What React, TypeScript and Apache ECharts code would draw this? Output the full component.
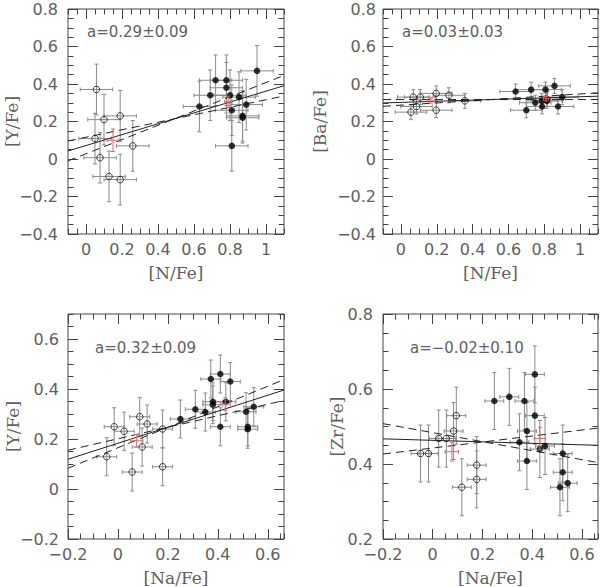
import React, { useEffect, useRef } from "react";
import * as echarts from "echarts";

// ---------- DATA ----------
// Panel 1: [Y/Fe] vs [N/Fe]
const p1OpenX = [0.058, 0.05, 0.1, 0.19, 0.078, 0.26, 0.128, 0.19];
const p1OpenY = [0.371, 0.109, 0.21, 0.23, 0.007, 0.07, -0.093, -0.11];
const p1FilledX = [0.63, 0.69, 0.72, 0.78, 0.78, 0.8, 0.81, 0.85, 0.89, 0.87, 0.87, 0.95, 0.81];
const p1FilledY = [0.28, 0.34, 0.42, 0.42, 0.38, 0.34, 0.26, 0.33, 0.29, 0.23, 0.22, 0.47, 0.07];
const p1Err = [0.09, 0.135]; // [x error, y error]
const p1Means = [
  [0.15, 0.1, 0.033, 0.06],
  [0.79, 0.305, 0.02, 0.03],
];

// Panel 2: [Ba/Fe] vs [N/Fe]
const p2OpenX = [0.056, 0.069, 0.087, 0.108, 0.197, 0.197, 0.268, 0.357];
const p2OpenY = [0.25, 0.33, 0.28, 0.33, 0.35, 0.26, 0.34, 0.31];
const p2FilledX = [0.64, 0.7, 0.727, 0.75, 0.786, 0.788, 0.807, 0.814, 0.818, 0.857, 0.877, 0.9];
const p2FilledY = [0.36, 0.26, 0.37, 0.3, 0.31, 0.28, 0.37, 0.31, 0.32, 0.39, 0.28, 0.33];
const p2Err = [0.088, 0.04];
const p2Means = [
  [0.167, 0.31, 0.02, 0.012],
  [0.81, 0.322, 0.015, 0.012],
];

// Panel 3: [Y/Fe] vs [Na/Fe]
const p3OpenX = [-0.045, -0.015, 0.025, 0.057, 0.087, 0.097, 0.117, 0.179, 0.179];
const p3OpenY = [0.129, 0.249, 0.231, 0.068, 0.289, 0.168, 0.26, 0.24, 0.089];
const p3FilledX = [0.25, 0.31, 0.35, 0.372, 0.38, 0.38, 0.41, 0.41, 0.432, 0.45, 0.513, 0.52, 0.52, 0.544];
const p3FilledY = [0.28, 0.319, 0.308, 0.44, 0.349, 0.337, 0.46, 0.249, 0.349, 0.43, 0.309, 0.249, 0.239, 0.329];
const p3Err = [0.04, 0.076];
const p3Means = [
  [0.075, 0.193, 0.025, 0.025],
  [0.43, 0.34, 0.02, 0.025],
];

// Panel 4: [Zr/Fe] vs [Na/Fe]
const p4OpenX = [-0.049, -0.017, 0.024, 0.055, 0.084, 0.095, 0.117, 0.177, 0.177];
const p4OpenY = [0.428, 0.428, 0.468, 0.468, 0.488, 0.529, 0.338, 0.397, 0.359];
const p4FilledX = [0.248, 0.308, 0.349, 0.369, 0.379, 0.379, 0.411, 0.411, 0.431, 0.452, 0.512, 0.523, 0.523, 0.543];
const p4FilledY = [0.568, 0.579, 0.458, 0.568, 0.488, 0.408, 0.639, 0.529, 0.44, 0.448, 0.338, 0.428, 0.378, 0.349];
const p4Err = [0.038, 0.076];
const p4Means = [
  [0.077, 0.433, 0.027, 0.025],
  [0.431, 0.468, 0.023, 0.03],
];

// Linear fits: slope a, its error, and pivot point
const fitSlopes = [0.29, 0.03, 0.32, -0.02];
const fitErrors = [0.09, 0.03, 0.09, 0.1];
const fitPivotX = [0.49, 0.5, 0.2, 0.205];
const fitPivotY = [0.214, 0.317, 0.247, 0.459];
const fitLabels = ["a=0.29\u00b10.09", "a=0.03\u00b10.03", "a=0.32\u00b10.09", "a=\u22120.02\u00b10.10"];

// Axis names and ranges
const xNames = ["[N/Fe]", "[N/Fe]", "[Na/Fe]", "[Na/Fe]"];
const yNames = ["[Y/Fe]", "[Ba/Fe]", "[Y/Fe]", "[Zr/Fe]"];
const xRanges = [[-0.1, 1.1], [-0.1, 1.1], [-0.2, 0.665], [-0.2, 0.665]];
const yRanges = [[-0.4, 0.8], [-0.4, 0.8], [-0.2, 0.7], [0.2, 0.8]];
const xLabelRanges = [[0, 1], [0, 1], [-0.2, 0.6], [-0.2, 0.6]];
const yLabelRanges = [[-0.4, 0.8], [-0.4, 0.8], [-0.2, 0.6], [0.2, 0.8]];
const majorStep = 0.2;
const xMinorSteps = [0.05, 0.05, 0.05, 0.05];
const yMinorSteps = [0.05, 0.05, 0.05, 0.05];

const panelData = [
  { ox: p1OpenX, oy: p1OpenY, fx: p1FilledX, fy: p1FilledY, err: p1Err, means: p1Means },
  { ox: p2OpenX, oy: p2OpenY, fx: p2FilledX, fy: p2FilledY, err: p2Err, means: p2Means },
  { ox: p3OpenX, oy: p3OpenY, fx: p3FilledX, fy: p3FilledY, err: p3Err, means: p3Means },
  { ox: p4OpenX, oy: p4OpenY, fx: p4FilledX, fy: p4FilledY, err: p4Err, means: p4Means },
];

// ---------- LAYOUT ----------
const FRAMES = [
  { left: 68, top: 9, width: 216, height: 225 },
  { left: 383, top: 9, width: 215, height: 225 },
  { left: 68, top: 314, width: 216, height: 225 },
  { left: 383, top: 314, width: 215, height: 225 },
];
const yLabelMargins = [10, 7, 9, 10];
const yNameGaps = [48, 55, 47, 38];
const xNameGap = 30;
const annotPos = [
  [87, 32],
  [402, 32],
  [95, 348],
  [410, 348],
];
const MAJOR_TICK = 10;
const MINOR_TICK = 5.5;

const FRAME_COLOR = "#444";
const TEXT_COLOR = "#606060";
const ERR_COLOR = "#8a8a8a";
const MEAN_COLOR = "#e06a6a";
const LABEL_FONT = "DejaVu Sans";
const NAME_FONT = "DejaVu Serif";

const fmt = (v: number) => String(+v.toFixed(3)).replace("-", "\u2212");

function errorBarRender(color: string) {
  return (params: any, api: any) => {
    const x = api.value(0);
    const y = api.value(1);
    const xe = api.value(2);
    const ye = api.value(3);
    const l = api.coord([x - xe, y]);
    const r = api.coord([x + xe, y]);
    const t = api.coord([x, y + ye]);
    const b = api.coord([x, y - ye]);
    const c = 2;
    const style = { stroke: color, lineWidth: 1, fill: null };
    const seg = (x1: number, y1: number, x2: number, y2: number) => ({
      type: "line",
      shape: { x1, y1, x2, y2 },
      style,
    });
    return {
      type: "group",
      children: [
        seg(l[0], l[1], r[0], r[1]),
        seg(t[0], t[1], b[0], b[1]),
        seg(l[0], l[1] - c, l[0], l[1] + c),
        seg(r[0], r[1] - c, r[0], r[1] + c),
        seg(t[0] - c, t[1], t[0] + c, t[1]),
        seg(b[0] - c, b[1], b[0] + c, b[1]),
      ],
    };
  };
}

function buildOption() {
  const grid: any[] = [];
  const xAxis: any[] = [];
  const yAxis: any[] = [];
  const series: any[] = [];
  const graphic: any[] = [];

  const tickStyle = { color: FRAME_COLOR, width: 1 };
  const labelStyle = { color: TEXT_COLOR, fontFamily: LABEL_FONT, fontSize: 16 };
  const nameStyle = { color: TEXT_COLOR, fontFamily: NAME_FONT, fontSize: 17 };
  const noLine = { show: false, onZero: false };

  FRAMES.forEach((f, i) => {
    const [xmin, xmax] = xRanges[i];
    const [ymin, ymax] = yRanges[i];
    const pxPerX = f.width / (xmax - xmin);
    const pxPerY = f.height / (ymax - ymin);

    // data grid: frame + minor ticks
    const gData = grid.length;
    grid.push({ ...f, show: true, borderColor: FRAME_COLOR, borderWidth: 1, backgroundColor: "transparent" });
    const xData = xAxis.length;
    ["bottom", "top"].forEach((pos, k) => {
      xAxis.push({
        type: "value",
        gridIndex: gData,
        position: pos,
        min: xmin,
        max: xmax,
        interval: xMinorSteps[i],
        axisLine: noLine,
        axisTick: { show: true, inside: true, length: MINOR_TICK, lineStyle: tickStyle },
        axisLabel: { show: false },
        splitLine: { show: false },
        name: k === 0 ? xNames[i] : "",
        nameLocation: "middle",
        nameGap: xNameGap,
        nameTextStyle: nameStyle,
      });
    });
    const yData = yAxis.length;
    ["left", "right"].forEach((pos, k) => {
      yAxis.push({
        type: "value",
        gridIndex: gData,
        position: pos,
        min: ymin,
        max: ymax,
        interval: yMinorSteps[i],
        axisLine: noLine,
        axisTick: { show: true, inside: true, length: MINOR_TICK, lineStyle: tickStyle },
        axisLabel: { show: false },
        splitLine: { show: false },
        name: k === 0 ? yNames[i] : "",
        nameLocation: "middle",
        nameRotate: 90,
        nameGap: yNameGaps[i],
        nameTextStyle: nameStyle,
      });
    });

    // major x ticks + labels
    const [lx0, lx1] = xLabelRanges[i];
    const gX = grid.length;
    grid.push({
      left: f.left + (lx0 - xmin) * pxPerX,
      top: f.top,
      width: (lx1 - lx0) * pxPerX,
      height: f.height,
    });
    ["bottom", "top"].forEach((pos, k) => {
      xAxis.push({
        type: "value",
        gridIndex: gX,
        position: pos,
        min: lx0,
        max: lx1,
        interval: majorStep,
        axisLine: noLine,
        axisTick: { show: true, inside: true, length: MAJOR_TICK, lineStyle: tickStyle },
        axisLabel: { show: k === 0, margin: 7, formatter: fmt, ...labelStyle },
        splitLine: { show: false },
      });
    });
    yAxis.push({ type: "value", gridIndex: gX, show: false, min: ymin, max: ymax, axisLine: noLine });

    // major y ticks + labels
    const [ly0, ly1] = yLabelRanges[i];
    const gY = grid.length;
    grid.push({
      left: f.left,
      top: f.top + (ymax - ly1) * pxPerY,
      width: f.width,
      height: (ly1 - ly0) * pxPerY,
    });
    xAxis.push({ type: "value", gridIndex: gY, show: false, min: xmin, max: xmax, axisLine: noLine });
    ["left", "right"].forEach((pos, k) => {
      yAxis.push({
        type: "value",
        gridIndex: gY,
        position: pos,
        min: ly0,
        max: ly1,
        interval: majorStep,
        axisLine: noLine,
        axisTick: { show: true, inside: true, length: MAJOR_TICK, lineStyle: tickStyle },
        axisLabel: { show: k === 0, margin: yLabelMargins[i], formatter: fmt, ...labelStyle },
        splitLine: { show: false },
      });
    });

    // series on data grid
    const d = panelData[i];
    const axisRef = { xAxisIndex: xData, yAxisIndex: yData };
    const openRows = d.ox.map((x, k) => [x, d.oy[k], d.err[0], d.err[1]]);
    const filledRows = d.fx.map((x, k) => [x, d.fy[k], d.err[0], d.err[1]]);

    [openRows, filledRows].forEach((rows) => {
      series.push({
        type: "custom",
        ...axisRef,
        renderItem: errorBarRender(ERR_COLOR),
        data: rows,
        encode: { x: 0, y: 1 },
        clip: true,
        silent: true,
        z: 1,
      });
    });

    // fit lines
    const a = fitSlopes[i];
    const e = fitErrors[i];
    const px = fitPivotX[i];
    const py = fitPivotY[i];
    const lineFor = (s: number) => [
      [xmin, py + s * (xmin - px)],
      [xmax, py + s * (xmax - px)],
    ];
    series.push({
      type: "line",
      ...axisRef,
      data: lineFor(a),
      symbol: "none",
      lineStyle: { color: "#222", width: 1 },
      clip: true,
      silent: true,
      z: 2,
    });
    [a - e, a + e].forEach((s) => {
      series.push({
        type: "line",
        ...axisRef,
        data: lineFor(s),
        symbol: "none",
        lineStyle: { color: "#222", width: 1, type: [8, 5] },
        clip: true,
        silent: true,
        z: 2,
      });
    });

    // points
    series.push({
      type: "scatter",
      ...axisRef,
      data: d.ox.map((x, k) => [x, d.oy[k]]),
      symbol: "circle",
      symbolSize: 6.5,
      itemStyle: { color: "rgba(255,255,255,0)", borderColor: "#111", borderWidth: 1 },
      silent: true,
      z: 3,
    });
    series.push({
      type: "scatter",
      ...axisRef,
      data: d.fx.map((x, k) => [x, d.fy[k]]),
      symbol: "circle",
      symbolSize: 6.5,
      itemStyle: { color: "#000" },
      silent: true,
      z: 3,
    });

    // mean values (red crosses)
    series.push({
      type: "custom",
      ...axisRef,
      renderItem: errorBarRender(MEAN_COLOR),
      data: d.means,
      encode: { x: 0, y: 1 },
      clip: true,
      silent: true,
      z: 4,
    });

    graphic.push({
      type: "text",
      x: annotPos[i][0],
      y: annotPos[i][1],
      silent: true,
      style: {
        text: fitLabels[i],
        fill: TEXT_COLOR,
        fontFamily: LABEL_FONT,
        fontSize: 15,
        verticalAlign: "middle",
      },
    });
  });

  return {
    animation: false,
    backgroundColor: "#fff",
    grid,
    xAxis,
    yAxis,
    series,
    graphic,
  };
}

export default function App() {
  const ref = useRef<HTMLDivElement>(null);
  useEffect(() => {
    if (!ref.current) return;
    const chart = echarts.init(ref.current, undefined, { renderer: "svg" });
    chart.setOption(buildOption() as any);
    return () => chart.dispose();
  }, []);
  return (
    <div
      ref={ref}
      style={{ position: "fixed", left: 0, top: 0, width: 600, height: 587, background: "#fff" }}
    />
  );
}
